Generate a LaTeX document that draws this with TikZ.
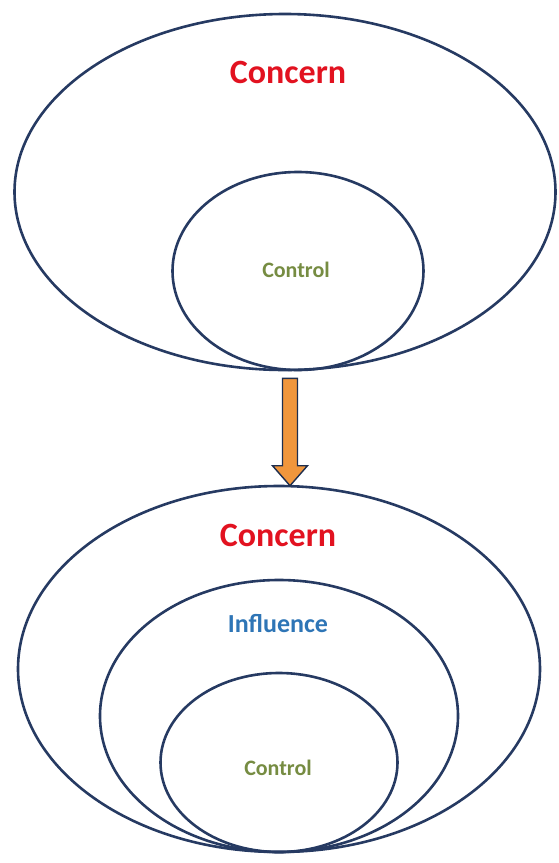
\documentclass[tikz,border=0pt]{standalone}
\usepackage{fontspec}
\setmainfont{Carlito}
\usetikzlibrary{positioning,calc,shapes.geometric}
\definecolor{RingBlue}{RGB}{38,58,98}
\definecolor{ConcernRed}{RGB}{226,18,32}
\definecolor{InfluenceBlue}{RGB}{46,117,182}
\definecolor{ControlGreen}{RGB}{118,140,66}
\definecolor{ArrowOrange}{RGB}{240,150,60}
\tikzset{
  ring/.style={ellipse,draw=RingBlue,line width=2.6pt,inner sep=0pt},
  concern/.style={text=ConcernRed,font=\fontsize{34}{36}\selectfont\bfseries},
  influence/.style={text=InfluenceBlue,font=\fontsize{26}{28}\selectfont\bfseries},
  control/.style={text=ControlGreen,font=\fontsize{22}{24}\selectfont\bfseries},
}
\tikzset{blockarrow/.style={draw=RingBlue!80!black,fill=ArrowOrange,line width=1.4pt,line join=miter}}

\begin{document}
\begin{tikzpicture}[x=1pt,y=-1pt]
\useasboundingbox (0,0) rectangle (559,863);
% before
\node[ring,minimum width=541,minimum height=356] (concernA) at (285,192) {};
\node[ring,minimum width=251,minimum height=198] (controlA) at (298,271) {};
\node[concern] (concernAtxt) at (288,72) {Concern};
\node[control] (controlAtxt) at (296,270) {Control};
% after
\node[ring,minimum width=522,minimum height=366] (concernB) at (279,669) {};
\node[ring,minimum width=358,minimum height=272] (influenceB) at (279,716) {};
\node[ring,minimum width=237,minimum height=179] (controlB) at (279,762.5) {};
\node[concern] (concernBtxt) at (278,535) {Concern};
\node[influence] (influenceBtxt) at (278,624) {Influence};
\node[control] (controlBtxt) at (278,768) {Control};
% arrow
\coordinate (atop) at ($(concernA.south)+(5,7)$);
\coordinate (abot) at ($(concernB.north)+(11,1)$);
\draw[blockarrow] ($(atop)+(-7.5,0)$) -- ($(atop)+(7.5,0)$) -- ($(abot)+(7.5,-20)$)
  -- ($(abot)+(17.5,-20)$) -- (abot) -- ($(abot)+(-17.5,-20)$) -- ($(abot)+(-7.5,-20)$) -- cycle;
\end{tikzpicture}
\end{document}
